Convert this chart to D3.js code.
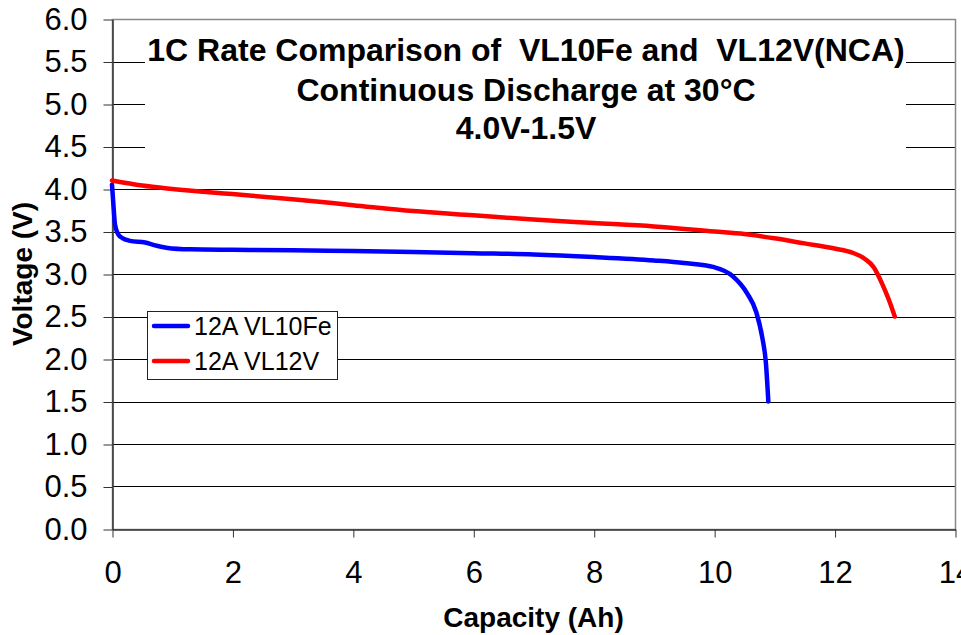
<!DOCTYPE html>
<html>
<head>
<meta charset="utf-8">
<script src="https://cdn.jsdelivr.net/npm/d3@7"></script>
<style>
  body { margin: 0; background: #fff; }
  svg { display: block; font-family: "Liberation Sans", Arial, sans-serif; }
</style>
</head>
<body>
<script>
// ---------- DATA ----------
var titleLines = ["1C Rate Comparison of  VL10Fe and  VL12V(NCA)", "Continuous Discharge at 30\u00B0C", "4.0V-1.5V"];
var xTicks = [0, 2, 4, 6, 8, 10, 12, 14];
var yTicks = [0, 0.5, 1, 1.5, 2, 2.5, 3, 3.5, 4, 4.5, 5, 5.5, 6];
var seriesNames = ["12A VL10Fe", "12A VL12V"];
var seriesColors = ["#0000ff", "#ff0000"];

// capacity (Ah) / voltage (V)
var feCap = [0, 0.02, 0.05, 0.1, 0.18, 0.3, 0.55, 0.7, 0.9, 1.3, 2, 3, 4, 5, 6, 7, 8, 9, 9.5, 10, 10.3, 10.55, 10.7, 10.8, 10.86, 10.9];
var feVolt = [4.05, 3.85, 3.58, 3.47, 3.42, 3.39, 3.37, 3.34, 3.31, 3.29, 3.285, 3.28, 3.27, 3.26, 3.245, 3.23, 3.2, 3.16, 3.13, 3.08, 2.98, 2.77, 2.55, 2.25, 1.95, 1.5];
var ncaCap = [0, 0.5, 1, 2, 3, 4, 5, 6, 7, 8, 9, 10, 10.5, 11, 11.5, 12, 12.3, 12.5, 12.65, 12.8, 12.9, 13.0];
var ncaVolt = [4.1, 4.04, 4.0, 3.94, 3.88, 3.81, 3.74, 3.69, 3.64, 3.6, 3.56, 3.5, 3.47, 3.42, 3.36, 3.3, 3.25, 3.18, 3.08, 2.87, 2.7, 2.5];

// ---------- DIMENSIONS ----------
var w = 961, h = 635;
var plot = { left: 112, right: 955, top: 19, bottom: 529 };

var x = d3.scaleLinear().domain([0, 14]).range([plot.left, plot.right]);
var y = d3.scaleLinear().domain([0, 6]).range([plot.bottom, plot.top]);

var svg = d3.select("body").append("svg")
  .attr("width", w)
  .attr("height", h);

// ---------- GRID ----------
svg.append("g")
  .selectAll("line")
  .data(yTicks.filter(d => d > 0 && d < 6))
  .enter()
  .append("line")
  .attr("x1", plot.left).attr("x2", plot.right)
  .attr("y1", d => Math.round(y(d)) + 0.5)
  .attr("y2", d => Math.round(y(d)) + 0.5)
  .attr("stroke", "#000")
  .attr("stroke-width", 1);

// plot area border
svg.append("rect")
  .attr("x", plot.left + 0.5).attr("y", plot.top + 0.5)
  .attr("width", plot.right - plot.left).attr("height", plot.bottom - plot.top)
  .attr("fill", "none")
  .attr("stroke", "#888")
  .attr("stroke-width", 1.5);

// ---------- AXES ----------
var yAxis = svg.append("g")
  .attr("transform", "translate(" + (plot.left + 0.5) + ",0.5)")
  .call(d3.axisLeft(y).tickValues(yTicks).tickSize(9).tickSizeOuter(0).tickPadding(16).tickFormat(d3.format(".1f")));

var xAxis = svg.append("g")
  .attr("transform", "translate(0.5," + (plot.bottom + 0.5) + ")")
  .call(d3.axisBottom(x).tickValues(xTicks).tickSize(8).tickSizeOuter(0).tickPadding(23));

[yAxis, xAxis].forEach(function (a) {
  a.select(".domain").attr("stroke", "#333").attr("stroke-width", 1.5);
  a.selectAll(".tick line").attr("stroke", "#333");
  a.selectAll(".tick text")
    .attr("fill", "#000")
    .attr("font-family", "Liberation Sans, Arial, sans-serif")
    .attr("font-size", "31px");
});

// axis titles
svg.append("text")
  .text("Capacity (Ah)")
  .attr("x", (plot.left + plot.right) / 2)
  .attr("y", 627)
  .attr("text-anchor", "middle")
  .attr("font-size", "28px")
  .attr("font-weight", "bold");

svg.append("text")
  .text("Voltage (V)")
  .attr("transform", "translate(32," + (plot.top + plot.bottom) / 2 + ") rotate(-90)")
  .attr("text-anchor", "middle")
  .attr("font-size", "28px")
  .attr("font-weight", "bold");

// ---------- CURVES ----------
var line = d3.line()
  .x(d => x(d[0]))
  .y(d => y(d[1]))
  .curve(d3.curveMonotoneX);

var series = [
  d3.zip(feCap, feVolt),
  d3.zip(ncaCap, ncaVolt)
];

series.forEach(function (pts, i) {
  svg.append("path")
    .datum(pts)
    .attr("d", line)
    .attr("fill", "none")
    .attr("stroke", seriesColors[i])
    .attr("stroke-width", 4.5)
    .attr("stroke-linecap", "round")
    .attr("stroke-linejoin", "round");
});

// ---------- TITLE ----------
svg.append("rect")
  .attr("x", 145).attr("y", 30)
  .attr("width", 761).attr("height", 120)
  .attr("fill", "#fff");

var titleY = [61, 101, 139];
titleLines.forEach(function (t, i) {
  svg.append("text")
    .text(t)
    .attr("x", 526)
    .attr("y", titleY[i])
    .attr("text-anchor", "middle")
    .attr("font-size", "32px")
    .attr("font-weight", "bold")
    .style("white-space", "pre")
    .attr("xml:space", "preserve");
});

// ---------- LEGEND ----------
var lg = svg.append("g").attr("transform", "translate(147,311)");
lg.append("rect")
  .attr("x", 0.5).attr("y", 0.5)
  .attr("width", 190).attr("height", 68)
  .attr("fill", "#fff")
  .attr("stroke", "#222")
  .attr("stroke-width", 1);

seriesNames.forEach(function (name, i) {
  var ly = 15 + i * 35;
  lg.append("line")
    .attr("x1", 7).attr("x2", 41)
    .attr("y1", ly).attr("y2", ly)
    .attr("stroke", seriesColors[i])
    .attr("stroke-width", 4.5)
    .attr("stroke-linecap", "round");
  lg.append("text")
    .text(name)
    .attr("x", 47)
    .attr("y", ly + 9)
    .attr("font-size", "25px");
});
</script>
</body>
</html>
